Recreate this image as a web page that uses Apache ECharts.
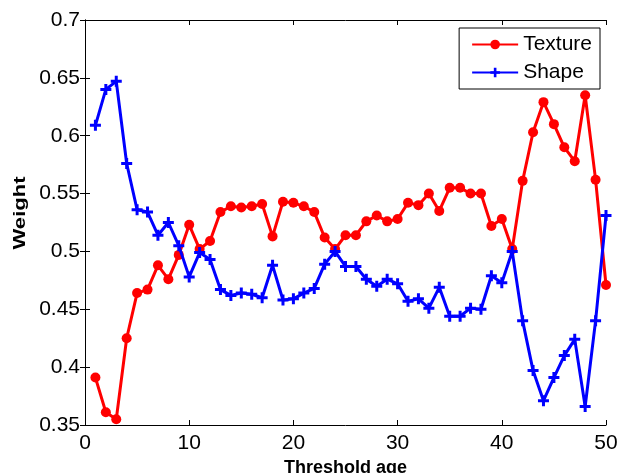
<!DOCTYPE html>
<html>
<head>
<meta charset="utf-8">
<script src="https://cdn.jsdelivr.net/npm/echarts@6/dist/echarts.min.js"></script>
<style>
  html, body { margin: 0; padding: 0; background: #fff; }
  #main { width: 621px; height: 473px; }
</style>
</head>
<body>
<div id="main"></div>
<script>
// threshold ages 1..50
var ages = [1,2,3,4,5,6,7,8,9,10,11,12,13,14,15,16,17,18,19,20,21,22,23,24,25,
  26,27,28,29,30,31,32,33,34,35,36,37,38,39,40,41,42,43,44,45,46,47,48,49,50];
var texture = [0.391,0.361,0.355,0.425,0.464,0.467,0.488,0.476,0.497,0.523,
  0.502,0.509,0.534,0.539,0.538,0.539,0.541,0.513,0.543,0.542,
  0.539,0.534,0.512,0.502,0.514,0.514,0.526,0.531,0.526,0.528,
  0.542,0.540,0.550,0.535,0.555,0.555,0.550,0.550,0.522,0.528,
  0.502,0.561,0.603,0.629,0.610,0.590,0.578,0.635,0.562,0.471];
var shape = [0.609,0.640,0.647,0.576,0.536,0.534,0.514,0.525,0.505,0.478,
  0.499,0.493,0.467,0.462,0.464,0.463,0.460,0.488,0.458,0.459,
  0.464,0.468,0.489,0.500,0.487,0.487,0.476,0.470,0.476,0.472,
  0.457,0.459,0.451,0.469,0.444,0.444,0.451,0.450,0.479,0.473,
  0.500,0.440,0.397,0.371,0.391,0.410,0.424,0.366,0.440,0.531];

function pairs(vals) {
  return ages.map(function (a, i) { return [a, vals[i]]; });
}

var plus = 'path://M4,0H7V4H11V7H7V11H4V7H0V4H4Z';
var font = 'Liberation Sans, Arial, sans-serif';

var chart = echarts.init(document.getElementById('main'), null, { renderer: 'canvas' });

var option = {
  animation: false,
  backgroundColor: '#fff',
  grid: { left: 85, right: 15, top: 20, bottom: 48, outerBoundsMode: 'none' },
  legend: {
    right: 21,
    top: 28,
    orient: 'vertical',
    backgroundColor: '#fff',
    borderColor: '#000',
    borderWidth: 1,
    borderRadius: 0,
    padding: [6, 8, 6, 12],
    itemGap: 7,
    itemWidth: 46,
    itemHeight: 12,
    textStyle: { fontFamily: font, fontSize: 21, color: '#000' },
    data: ['Texture', 'Shape']
  },
  // vertical axis title, stretched along its length like the original
  graphic: [{
    type: 'text',
    x: 20,
    y: 213,
    rotation: Math.PI / 2,
    scaleX: 1.3,
    style: {
      text: 'Weight',
      font: 'bold 17px ' + font,
      fill: '#000',
      align: 'center',
      verticalAlign: 'middle'
    }
  }],
  xAxis: [{
    type: 'value',
    min: 0, max: 50, interval: 10,
    name: 'Threshold age',
    nameLocation: 'middle',
    nameGap: 30,
    nameTextStyle: { fontFamily: font, fontSize: 18, fontWeight: 'bold', color: '#000' },
    axisLine: { show: true, lineStyle: { color: '#000', width: 1 } },
    axisTick: { inside: true, length: 5, lineStyle: { color: '#000' } },
    axisLabel: { fontFamily: font, fontSize: 21, color: '#000', margin: 8 },
    splitLine: { show: false }
  }, {
    type: 'value',
    position: 'top',
    min: 0, max: 50, interval: 10,
    axisLine: { show: true, lineStyle: { color: '#000', width: 1 } },
    axisTick: { inside: true, length: 5, lineStyle: { color: '#000' } },
    axisLabel: { show: false },
    splitLine: { show: false }
  }],
  yAxis: [{
    type: 'value',
    min: 0.35, max: 0.7, interval: 0.05,
    axisLine: { show: true, lineStyle: { color: '#000', width: 1 } },
    axisTick: { inside: true, length: 5, lineStyle: { color: '#000' } },
    axisLabel: { fontFamily: font, fontSize: 21, color: '#000', margin: 5 },
    splitLine: { show: false }
  }, {
    type: 'value',
    position: 'right',
    min: 0.35, max: 0.7, interval: 0.05,
    axisLine: { show: true, lineStyle: { color: '#000', width: 1 } },
    axisTick: { inside: true, length: 5, lineStyle: { color: '#000' } },
    axisLabel: { show: false },
    splitLine: { show: false }
  }],
  series: [{
    name: 'Texture',
    type: 'line',
    data: pairs(texture),
    symbol: 'circle',
    symbolSize: 10,
    lineStyle: { color: '#ff0000', width: 3 },
    itemStyle: { color: '#ff0000' },
    z: 2
  }, {
    name: 'Shape',
    type: 'line',
    data: pairs(shape),
    symbol: plus,
    symbolSize: 11,
    lineStyle: { color: '#0000ff', width: 3 },
    itemStyle: { color: '#0000ff' },
    z: 3
  }]
};

chart.setOption(option);
</script>
</body>
</html>
